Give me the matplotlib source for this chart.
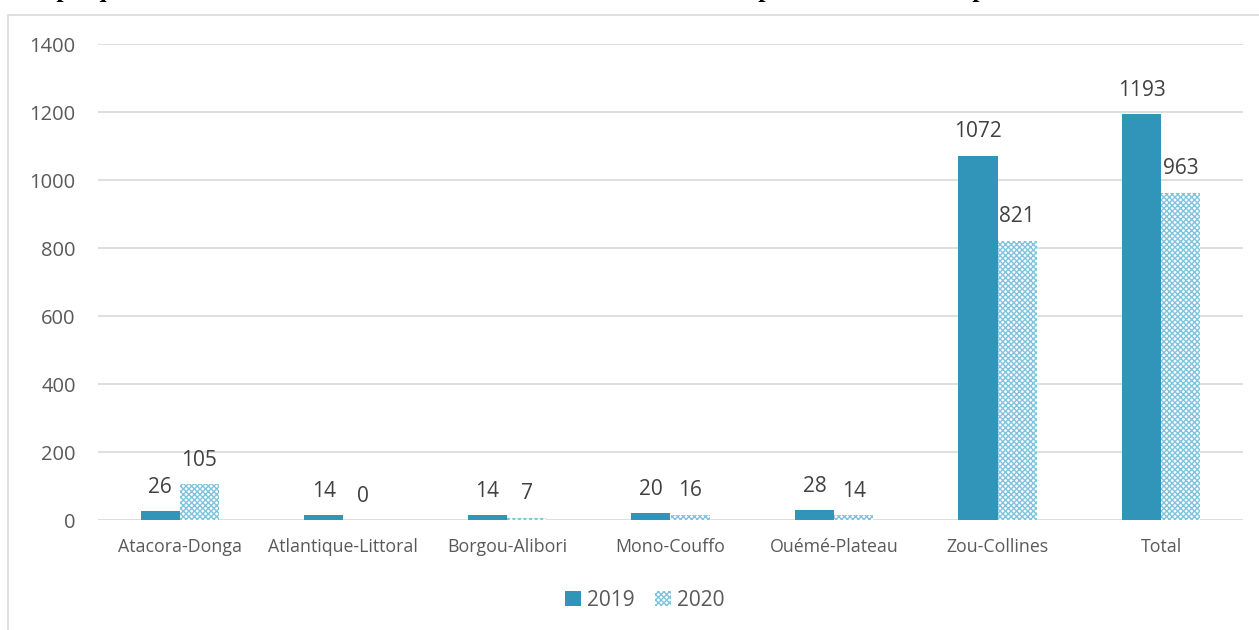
import matplotlib
matplotlib.use("Agg")
import matplotlib.pyplot as plt
from matplotlib.patches import Rectangle, Patch
import numpy as np

# === Data ===
categories = ["Atacora-Donga", "Atlantique-Littoral", "Borgou-Alibori",
              "Mono-Couffo", "Ouémé-Plateau", "Zou-Collines", "Total"]
seances_2019 = [26, 14, 14, 20, 28, 1072, 1193]
seances_2020 = [105, 0, 7, 16, 14, 821, 963]
yticks = [0, 200, 400, 600, 800, 1000, 1200, 1400]

title = ("Graphique 8 : Nombre de séances de sensibilisation sur la détection "
         "précoce du handicap chez les enfants")

# === Style ===
plt.rcParams['font.family'] = ['Open Sans', 'DejaVu Sans']
c2019 = "#3194B9"
c2020 = "#7FC3DE"
grid_col = "#D9D9D9"
txt_col = "#595959"

fig = plt.figure(figsize=(12.59, 6.30), dpi=100)

# chart frame
fig.patches.append(Rectangle((8 / 1259, -0.1), 1.2, 1.1 - 15 / 630,
                             transform=fig.transFigure, facecolor='none',
                             edgecolor=grid_col, linewidth=1.2))

# document title, mostly above the page edge
fig.text(12 / 1259, 1 + 3 / 630, title, family='Liberation Serif',
         fontweight='bold', fontsize=18.5, va='baseline', ha='left')

ax = fig.add_axes([98 / 1259, 110 / 630, 1145 / 1259, 476 / 630])

x = np.arange(len(categories))
w = 0.24
b1 = ax.bar(x - w / 2, seances_2019, w, color=c2019, label="2019", zorder=3)
b2 = ax.bar(x + w / 2, seances_2020, w, facecolor="white", edgecolor=c2020,
            hatch="xxxxxx", linewidth=0, label="2020", zorder=3)

# value labels
for bars, vals in ((b1, seances_2019), (b2, seances_2020)):
    for bar, v in zip(bars, vals):
        ax.annotate(f"{v}", (bar.get_x() + bar.get_width() / 2, v),
                    xytext=(0, 24), textcoords='offset pixels',
                    ha='center', va='center', fontsize=15, color="#404040")

ax.set_xlim(-0.5, len(categories) - 0.5)
ax.set_ylim(0, 1400)
ax.set_yticks(yticks)
ax.set_xticks(x)
ax.set_xticklabels(categories)
ax.tick_params(axis='both', length=0, colors=txt_col)
ax.tick_params(axis='y', pad=16, labelsize=14.5)
ax.tick_params(axis='x', pad=13, labelsize=12.8)
ax.grid(axis='y', color=grid_col, linewidth=1.2, zorder=0)
for s in ax.spines.values():
    s.set_visible(False)

handles = [Patch(facecolor=c2019, label="2019"),
           Patch(facecolor="white", edgecolor=c2020, hatch="xxxxxx",
                 linewidth=0, label="2020")]
leg = fig.legend(handles=handles, loc='center',
                 bbox_to_anchor=(645 / 1259, 30 / 630),
                 ncol=2, frameon=False, fontsize=15, handlelength=0.75,
                 handleheight=0.75, handletextpad=0.3, columnspacing=1.0)
for t in leg.get_texts():
    t.set_color(txt_col)

fig.savefig("out.png", dpi=100)
